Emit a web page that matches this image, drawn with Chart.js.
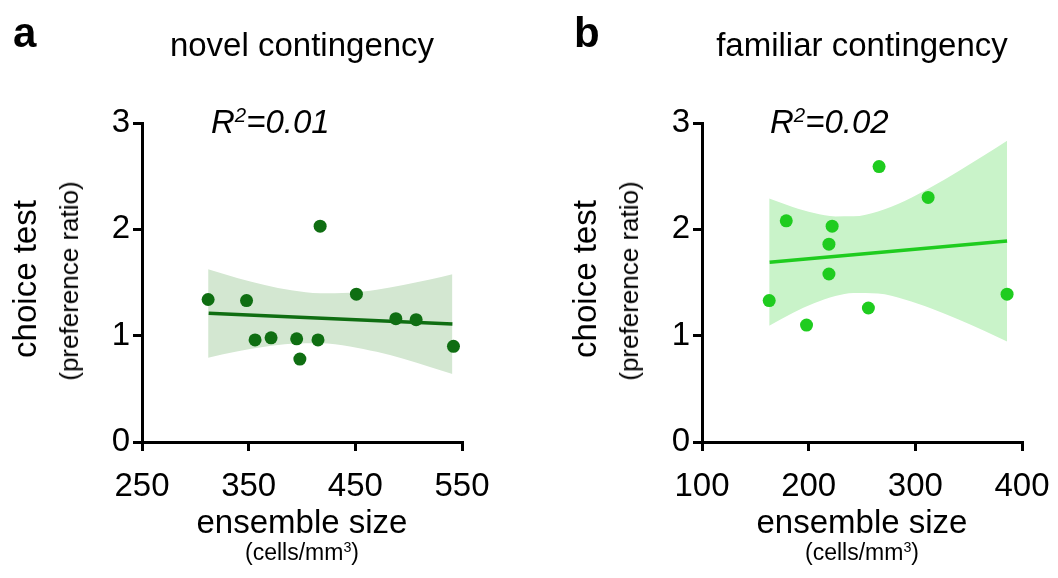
<!DOCTYPE html>
<html lang="en">
<head>
  <meta charset="UTF-8">
  <title>ensemble size vs choice test</title>
  <script src="https://cdn.jsdelivr.net/npm/chart.js"></script>
  <style>
    body {
      margin: 0;
      width: 1058px;
      height: 578px;
      background: #fff;
      position: relative;
      overflow: hidden;
      font-family: "Liberation Sans", Arial, sans-serif;
      color: #000;
    }
    .box {
      position: absolute;
      top: 0;
      width: 520px;
      height: 578px;
    }
    .txt {
      position: absolute;
      line-height: 1;
      white-space: nowrap;
    }
    .center {
      width: 400px;
      text-align: center;
    }
    .rot {
      transform: translate(-50%, -50%) rotate(-90deg);
    }
    sup {
      font-size: 62%;
      vertical-align: 0;
      position: relative;
      top: -0.55em;
    }
  </style>
</head>
<body>
  <div class="box" style="left: 0px;"><canvas id="chartA"></canvas></div>
  <div class="box" style="left: 560px;"><canvas id="chartB"></canvas></div>

  <div class="txt" style="left: 13px; top: 12px; font-size: 42px; font-weight: bold;">a</div>
  <div class="txt" style="left: 574px; top: 12px; font-size: 42px; font-weight: bold;">b</div>

  <div class="txt center" style="left: 102px; top: 28px; font-size: 33px;">novel contingency</div>
  <div class="txt center" style="left: 662px; top: 28px; font-size: 33px;">familiar contingency</div>

  <div class="txt" style="left: 211px; top: 105px; font-size: 33px; font-style: italic;">R<sup>2</sup>=0.01</div>
  <div class="txt" style="left: 770px; top: 105px; font-size: 33px; font-style: italic;">R<sup>2</sup>=0.02</div>

  <div class="txt rot" style="left: 24px; top: 279px; font-size: 33px;">choice test</div>
  <div class="txt rot" style="left: 69px; top: 281px; font-size: 26px;">(preference ratio)</div>
  <div class="txt rot" style="left: 584px; top: 279px; font-size: 33px;">choice test</div>
  <div class="txt rot" style="left: 629px; top: 281px; font-size: 26px;">(preference ratio)</div>

  <div class="txt center" style="left: 102px; top: 505px; font-size: 33px;">ensemble size</div>
  <div class="txt center" style="left: 102px; top: 541px; font-size: 23px;">(cells/mm<sup>3</sup>)</div>
  <div class="txt center" style="left: 662px; top: 505px; font-size: 33px;">ensemble size</div>
  <div class="txt center" style="left: 662px; top: 541px; font-size: 23px;">(cells/mm<sup>3</sup>)</div>

  <script>
    // panel a - novel contingency
    const novelX = [312, 348, 356, 371, 395, 398, 415, 417, 451, 488, 507, 542];
    const novelY = [1.34, 1.33, 0.96, 0.98, 0.97, 0.78, 0.96, 2.03, 1.39, 1.16, 1.15, 0.90];
    const novelFitX = [312.5, 541];
    const novelFitY = [1.21, 1.11];
    const novelBandX = [312, 340, 365, 390, 417, 445, 470, 495, 520, 541];
    const novelBandUp = [1.625, 1.541, 1.476, 1.426, 1.398, 1.403, 1.432, 1.476, 1.528, 1.577];
    const novelBandLo = [0.793, 0.853, 0.896, 0.924, 0.928, 0.899, 0.848, 0.782, 0.706, 0.639];
    const novelTicksX = [250, 350, 450, 550];

    // panel b - familiar contingency
    const famX = [163, 179, 198, 219, 219, 222, 256, 266, 312, 386];
    const famY = [1.33, 2.08, 1.10, 1.86, 1.58, 2.03, 1.26, 2.59, 2.30, 1.39];
    const famFitX = [163.4, 386];
    const famFitY = [1.69, 1.89];
    const famBandX = [163, 185, 205, 225, 242, 265, 290, 315, 340, 365, 386];
    const famBandUp = [2.291, 2.211, 2.153, 2.121, 2.122, 2.168, 2.267, 2.398, 2.544, 2.699, 2.834];
    const famBandLo = [1.093, 1.213, 1.305, 1.373, 1.402, 1.396, 1.341, 1.256, 1.154, 1.043, 0.944];
    const famTicksX = [100, 200, 300, 400];

    const yTicks = [0, 1, 2, 3];

    const pts = (xs, ys) => xs.map((x, i) => ({ x: x, y: ys[i] }));

    const makeChart = (id, xs, ys, fitX, fitY, bandX, bandUp, bandLo, ticksX, dotColor, bandColor) => {
      const ctx = document.getElementById(id).getContext("2d");
      return new Chart(ctx, {
        type: "scatter",
        data: {
          datasets: [
            {
              data: pts(xs, ys),
              backgroundColor: dotColor,
              borderColor: dotColor,
              pointRadius: 6.5,
              borderWidth: 0
            },
            {
              data: pts(fitX, fitY),
              showLine: true,
              borderColor: dotColor,
              borderWidth: 3.5,
              pointRadius: 0
            },
            {
              data: pts(bandX, bandUp),
              showLine: true,
              borderColor: "transparent",
              pointRadius: 0,
              cubicInterpolationMode: "monotone",
              fill: "+1",
              backgroundColor: bandColor
            },
            {
              data: pts(bandX, bandLo),
              showLine: true,
              borderColor: "transparent",
              pointRadius: 0,
              cubicInterpolationMode: "monotone"
            }
          ]
        },
        options: {
          responsive: true,
          maintainAspectRatio: false,
          animation: false,
          layout: {
            padding: { left: 0, top: 123, right: 58, bottom: 0 }
          },
          plugins: {
            legend: { display: false },
            tooltip: { enabled: false }
          },
          scales: {
            x: {
              type: "linear",
              min: ticksX[0],
              max: ticksX[ticksX.length - 1],
              afterBuildTicks: (scale) => {
                scale.ticks = ticksX.map(v => ({ value: v }));
              },
              afterFit: (scale) => {
                scale.height = 136;
              },
              border: { color: "#000", width: 3 },
              grid: {
                drawOnChartArea: false,
                color: "#000",
                tickColor: "#000",
                tickLength: 9,
                lineWidth: 3
              },
              ticks: {
                color: "#000",
                padding: 16,
                maxRotation: 0,
                font: { family: "Liberation Sans", size: 33 }
              }
            },
            y: {
              min: 0,
              max: 3,
              afterBuildTicks: (scale) => {
                scale.ticks = yTicks.map(v => ({ value: v }));
              },
              afterFit: (scale) => {
                scale.width = 142;
              },
              border: { color: "#000", width: 3 },
              grid: {
                drawOnChartArea: false,
                color: "#000",
                tickColor: "#000",
                tickLength: 9,
                lineWidth: 3
              },
              ticks: {
                color: "#000",
                padding: 3,
                font: { family: "Liberation Sans", size: 33 }
              }
            }
          }
        }
      });
    };

    makeChart("chartA", novelX, novelY, novelFitX, novelFitY, novelBandX, novelBandUp, novelBandLo,
      novelTicksX, "#0f6e12", "#d3e7d1");
    makeChart("chartB", famX, famY, famFitX, famFitY, famBandX, famBandUp, famBandLo,
      famTicksX, "#1fcc1f", "#c9f3c9");
  </script>
</body>
</html>
